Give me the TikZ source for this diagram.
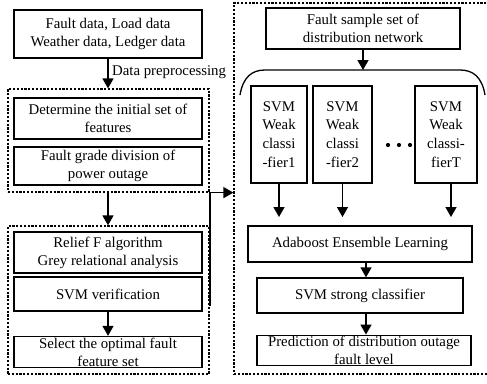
\documentclass[tikz,border=0pt]{standalone}
\usepackage{fontspec}
\setmainfont{Liberation Serif}
\usetikzlibrary{arrows.meta}
\begin{document}
\begin{tikzpicture}[x=1pt,y=-1pt,
  txt/.style={font=\fontsize{14.8}{18}\selectfont},
  box/.style={draw, line width=1.3pt, align=center, inner sep=1pt, txt},
  weak/.style={box, minimum height=97pt, font=\fontsize{14.8}{18.7}\selectfont},
  grp/.style={draw, line width=1.2pt, dash pattern=on 2.2pt off 1.6pt, inner sep=0pt},
  arr/.style={line width=1.4pt, -{Triangle[length=10pt,width=11pt]}},
  dot/.style={circle, fill, inner sep=0pt, minimum size=4.2pt},
]
\useasboundingbox (0,0) rectangle (487,383);

% ---------- left column: feature selection ----------
\node[box, minimum width=188pt, minimum height=48pt] (src) at (108,34)
  {Fault data, Load data\\Weather data, Ledger data};

\node[grp, minimum width=201pt, minimum height=103pt] (g1) at (108.5,140.5) {};
\node[box, minimum width=188pt, minimum height=41pt] (init) at (108,118.5)
  {Determine the initial set of\\features};
\node[box, minimum width=188pt, minimum height=38pt] (grade) at (108,166)
  {Fault grade division of\\power outage};

\node[grp, minimum width=201pt, minimum height=148pt] (g2) at (108.5,300) {};
\node[box, minimum width=188pt, minimum height=41pt] (relief) at (108,252.5)
  {Relief F algorithm\\Grey relational analysis};
\node[box, minimum width=188pt, minimum height=34pt] (verif) at (108,294)
  {SVM verification};
\node[box, minimum width=188pt, minimum height=31pt] (opt) at (108,352)
  {Select the optimal fault\\feature set};

\draw[arr] (src.south) -- (src.south |- g1.north);
\node[txt, anchor=west, inner sep=0pt] (prep) at (112,72) {Data preprocessing};
\draw[arr] (g1.south -| src.south) -- (g2.north -| src.south);
\draw[arr] (verif.south) -- (opt.north);

% ---------- right column: ensemble classification ----------
\node[grp, minimum width=258pt, minimum height=371pt] (g3) at (363,188.5) {};
\node[box, minimum width=194pt, minimum height=41pt] (fs) at (363,28.5)
  {Fault sample set of\\distribution network};

% bracket over the weak classifiers
\coordinate (btop) at (363,70);
\draw[line width=1.3pt] (240,95) .. controls (243,77) and (252,70) .. (265,70)
  -- (460,70) .. controls (473,70) and (482,77) .. (485,95);
\draw[arr] (fs.south) -- (btop);

\node[weak, minimum width=56pt] (w1) at (279,134.5) {SVM\\Weak\\classi\\-fier1};
\node[weak, minimum width=59pt] (w2) at (342.5,134.5) {SVM\\Weak\\classi\\-fier2};
\node[weak, minimum width=62pt] (wT) at (446,134.5) {SVM\\Weak\\classi-\\fierT};
\node[dot] (d1) at (388,145) {};
\node[dot] (d2) at (399,145) {};
\node[dot] (d3) at (410,145) {};

\coordinate (e1) at (279,217);
\coordinate (e2) at (342.5,217);
\coordinate (eT) at (451,217);
\draw[arr] (w1.south) -- (e1);
\draw[arr] (w2.south) -- (e2);
\draw[arr] (wT.south -| eT) -- (eT);

\node[box, minimum width=224pt, minimum height=36pt] (ada) at (360,244)
  {Adaboost Ensemble Learning};
\node[box, minimum width=206pt, minimum height=35pt] (strong) at (360,295.5)
  {SVM strong classifier};
\node[box, minimum width=214pt, minimum height=30pt] (pred) at (364,350.5)
  {Prediction of distribution outage\\fault level};

\coordinate (ax) at (366,0);
\draw[arr] (ada.south -| ax) -- (strong.north -| ax);
\draw[arr] (strong.south -| ax) -- (pred.north -| ax);

% link from the selected features into the classifier block
\coordinate (jn) at (210,306);
\draw[arr] (jn) |- (g3.west |- g1.south);
\end{tikzpicture}
\end{document}
